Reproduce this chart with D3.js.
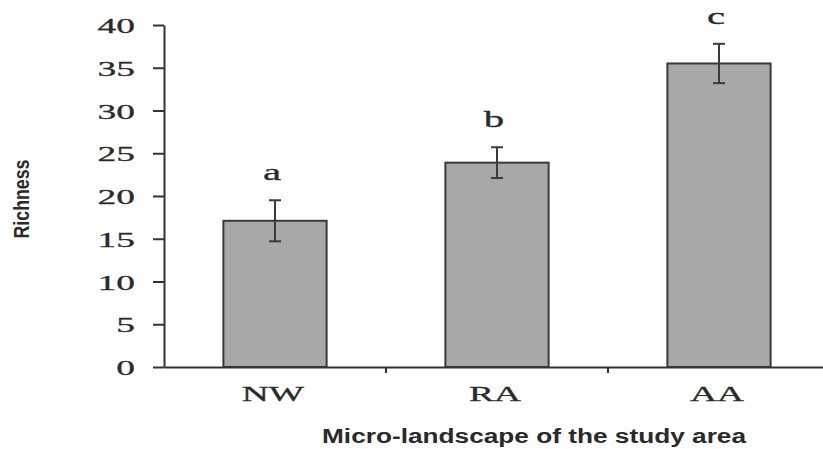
<!DOCTYPE html>
<html>
<head>
<meta charset="utf-8">
<script src="https://cdn.jsdelivr.net/npm/d3@7"></script>
<style>
  html, body { margin: 0; padding: 0; background: #fff; }
  svg { display: block; }
</style>
</head>
<body>
<svg id="chart" width="823" height="449"></svg>
<script>
// ---- data ----
const categories = ["NW", "RA", "AA"];
const richness = [17.1, 23.9, 35.5];
const errors = [2.4, 1.8, 2.3];
const letters = ["a", "b", "c"];
const yTicks = [0, 5, 10, 15, 20, 25, 30, 35, 40];
const yTitle = "Richness";
const xTitle = "Micro-landscape of the study area";

// ---- layout ----
const svg = d3.select("#chart");
const ink = "#333";
const serif = "'Liberation Serif', 'DejaVu Serif', serif";
const stretch = 1.7;

const y = d3.scaleLinear().domain([0, 40]).range([367, 25]);
const x = d3.scaleBand().domain(categories).range([164, 830])
  .paddingInner(0.535).paddingOuter(0.2675);

// bars
const data = categories.map((c, i) => ({ c, v: richness[i], e: errors[i], l: letters[i] }));

svg.append("g").selectAll("rect").data(data).join("rect")
  .attr("x", d => x(d.c))
  .attr("y", d => y(d.v))
  .attr("width", x.bandwidth())
  .attr("height", d => y(0) - y(d.v))
  .attr("fill", "#a8a8a8")
  .attr("stroke", "#3a3a3a")
  .attr("stroke-width", 2);

// error bars
const eb = svg.append("g").attr("stroke", "#3a3a3a").attr("stroke-width", 2);
data.forEach(d => {
  const cx = x(d.c) + x.bandwidth() / 2;
  eb.append("line").attr("x1", cx).attr("x2", cx).attr("y1", y(d.v + d.e)).attr("y2", y(d.v - d.e));
  eb.append("line").attr("x1", cx - 6).attr("x2", cx + 6).attr("y1", y(d.v + d.e)).attr("y2", y(d.v + d.e));
  eb.append("line").attr("x1", cx - 6).attr("x2", cx + 6).attr("y1", y(d.v - d.e)).attr("y2", y(d.v - d.e));
});

// significance letters
svg.append("g").selectAll("text").data(data).join("text")
  .attr("transform", d => `translate(${x(d.c) + x.bandwidth() / 2 - 3},${y(d.v + d.e) - 20}) scale(${stretch},1)`)
  .attr("text-anchor", "middle")
  .attr("font-family", serif)
  .attr("font-size", 24)
  .attr("fill", "#2a2a2a")
  .attr("stroke", "#2a2a2a").attr("stroke-width", 0.3)
  .text(d => d.l);

// y axis
const yAxis = svg.append("g").attr("transform", "translate(164,0)")
  .call(d3.axisLeft(y).tickValues(yTicks).tickSize(11).tickSizeOuter(0));
yAxis.select(".domain").attr("stroke", ink).attr("stroke-width", 2);
yAxis.selectAll(".tick line").attr("stroke", ink).attr("stroke-width", 2);
yAxis.selectAll(".tick text")
  .attr("x", null).attr("dy", "0.35em")
  .attr("transform", `translate(-29,0) scale(${stretch},1)`)
  .attr("font-family", serif).attr("font-size", 22).attr("fill", "#2a2a2a")
  .attr("stroke", "#2a2a2a").attr("stroke-width", 0.3);

// x axis
const xAxis = svg.append("g").attr("transform", `translate(0,${y(0)})`)
  .call(d3.axisBottom(x).tickSize(0).tickSizeOuter(0));
xAxis.select(".domain").attr("stroke", ink).attr("stroke-width", 2);
xAxis.selectAll(".tick text")
  .attr("y", null).attr("dy", null)
  .attr("transform", `translate(-2,34) scale(${stretch},1)`)
  .attr("font-family", serif).attr("font-size", 22).attr("fill", "#2a2a2a")
  .attr("stroke", "#2a2a2a").attr("stroke-width", 0.3);

// boundary ticks between categories
const bounds = categories.slice(1).map(c => x(c) - x.step() * x.paddingInner() / 2);
xAxis.selectAll(".btick").data(bounds).join("line")
  .attr("class", "btick")
  .attr("x1", d => d).attr("x2", d => d)
  .attr("y1", 0).attr("y2", 6)
  .attr("stroke", ink).attr("stroke-width", 2);

// titles
svg.append("text")
  .attr("transform", "translate(29,199) rotate(-90)")
  .attr("text-anchor", "middle")
  .attr("font-family", "'Liberation Sans Narrow', 'Liberation Sans', Arial, sans-serif")
  .attr("font-weight", "bold")
  .attr("font-size", 22)
  .attr("textLength", 79).attr("lengthAdjust", "spacingAndGlyphs")
  .attr("fill", "#2a2a2a")
  .text(yTitle);

svg.append("text")
  .attr("x", 534).attr("y", 443)
  .attr("text-anchor", "middle")
  .attr("font-family", "'Liberation Sans', Arial, sans-serif")
  .attr("font-weight", "bold")
  .attr("font-size", 20)
  .attr("textLength", 424).attr("lengthAdjust", "spacingAndGlyphs")
  .attr("fill", "#2a2a2a")
  .text(xTitle);
</script>
</body>
</html>
